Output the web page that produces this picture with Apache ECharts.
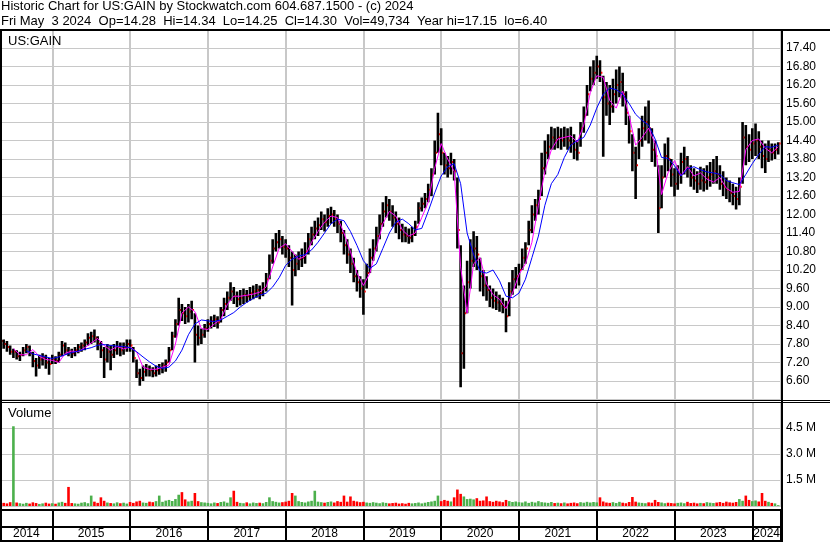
<!DOCTYPE html>
<html>
<head>
<meta charset="utf-8">
<script src="https://cdn.jsdelivr.net/npm/echarts@6.0.0/dist/echarts.min.js"></script>
<style>
html,body{margin:0;padding:0;background:#fff;}
#chart{width:830px;height:543px;}
</style>
</head>
<body>
<div id="chart"></div>
<script>
// ================= DATA =================
const TITLE_LINE_1 = 'Historic Chart for US:GAIN by Stockwatch.com 604.687.1500 - (c) 2024';
const TITLE_LINE_2 = 'Fri May  3 2024  Op=14.28  Hi=14.34  Lo=14.25  Cl=14.30  Vol=49,734  Year hi=17.15  lo=6.40';
const SYMBOL_LABEL = 'US:GAIN';
const VOLUME_LABEL = 'Volume';
const YEARS = [2014, 2015, 2016, 2017, 2018, 2019, 2020, 2021, 2022, 2023, 2024];

// semi-monthly bars starting May 2014 (time in fractional years)
const FIRST_BAR = 2014 + 4 / 12;
const BAR_STEP = 1 / 24;
const MA_STEP = 1 / 12;

const HIGH = [
 8.05,7.95,7.90,7.75,7.65,7.60,7.55,7.70,
 7.80,7.75,7.55,7.35,7.45,7.50,7.45,7.35,
 7.45,7.40,7.55,7.90,7.85,7.70,7.65,7.70,
 7.80,7.85,7.95,8.15,8.20,8.27,8.05,7.90,
 7.70,7.80,7.75,7.80,7.90,7.85,7.85,7.95,
 7.95,7.70,7.30,7.00,7.10,7.15,7.10,7.05,
 7.10,7.15,7.20,7.30,7.70,8.20,8.60,9.30,
 9.10,9.00,9.10,9.20,8.80,8.40,8.30,8.45,
 8.60,8.70,8.75,8.70,9.00,9.30,9.50,9.80,
 9.65,9.50,9.55,9.60,9.55,9.65,9.70,9.75,
 9.70,9.80,10.10,10.70,11.20,11.40,11.50,11.30,
 11.20,11.00,10.80,10.70,10.80,10.90,11.10,11.40,
 11.60,11.80,11.90,12.10,12.00,12.20,12.25,12.15,
 12.00,11.80,11.50,11.20,10.90,10.60,10.20,10.00,
 9.90,10.40,10.90,11.20,11.60,12.00,12.40,12.60,
 12.50,12.30,12.10,11.90,11.70,11.60,11.55,11.60,
 11.80,12.40,12.55,12.70,13.00,13.50,14.40,15.30,
 14.80,14.00,13.90,14.00,13.80,13.20,11.00,9.70,
 10.50,11.20,11.46,11.30,10.60,10.20,10.00,9.70,
 9.60,9.50,9.40,9.30,9.20,9.80,10.20,10.30,
 10.40,10.90,11.10,11.80,12.30,12.50,12.80,14.00,
 14.40,14.60,14.85,14.80,14.85,14.80,14.85,14.80,
 14.85,14.60,14.40,15.00,15.50,16.20,16.80,17.00,
 17.15,17.00,16.50,16.30,16.20,16.40,16.70,16.80,
 16.60,16.00,15.20,14.60,14.20,14.80,15.20,15.50,
 15.70,14.80,14.40,13.60,13.60,14.30,14.50,13.80,
 13.50,13.60,14.00,14.20,13.90,13.60,13.50,13.40,
 13.55,13.50,13.60,13.70,13.80,13.90,13.60,13.40,
 13.20,13.10,13.00,12.90,13.20,15.00,14.90,14.60,
 14.80,14.95,14.70,14.40,14.30,14.40,14.30,14.30,
 14.34
];
const LOW = [
 7.70,7.65,7.55,7.45,7.35,7.30,7.25,7.40,
 7.50,7.40,7.05,6.75,7.00,7.10,7.00,6.80,
 7.15,7.15,7.20,7.40,7.45,7.40,7.35,7.40,
 7.50,7.55,7.60,7.75,7.80,7.85,7.60,7.35,
 6.70,7.20,6.95,7.35,7.45,7.40,7.45,7.55,
 7.55,7.20,6.70,6.45,6.60,6.75,6.75,6.72,
 6.75,6.80,6.85,6.90,7.20,7.60,8.00,8.40,
 8.55,8.45,8.50,8.60,7.20,7.75,7.80,8.00,
 8.20,8.30,8.35,8.30,8.50,8.70,8.90,9.20,
 9.10,9.00,9.05,9.10,9.15,9.20,9.25,9.30,
 9.25,9.35,9.50,9.90,10.40,10.80,10.90,10.70,
 10.60,10.30,9.05,10.00,10.20,10.30,10.40,10.70,
 11.00,11.20,11.30,11.50,11.45,11.60,11.70,11.60,
 11.40,11.10,10.70,10.40,10.10,9.80,9.50,9.30,
 8.75,9.60,10.10,10.50,10.80,11.20,11.60,11.90,
 11.80,11.60,11.40,11.20,11.10,11.10,11.05,11.10,
 11.30,11.70,12.10,12.20,12.40,12.60,13.30,14.00,
 13.60,13.30,13.20,13.30,13.10,10.90,6.40,7.00,
 8.80,9.60,10.30,10.20,9.50,9.35,9.20,9.00,
 8.95,8.90,8.85,8.80,8.18,8.70,9.40,9.60,
 9.70,10.20,10.40,11.00,11.40,11.80,12.00,12.60,
 13.30,13.80,14.10,14.10,14.15,14.10,14.20,14.10,
 14.00,13.80,13.75,14.20,14.65,15.20,16.00,16.20,
 16.40,16.30,13.87,15.20,14.90,15.30,15.60,15.80,
 15.50,14.90,14.30,13.40,12.50,13.80,14.20,14.40,
 14.30,13.70,13.55,11.40,12.20,13.20,13.40,12.90,
 12.58,12.80,13.00,13.30,13.20,12.90,12.80,12.70,
 12.80,12.75,12.80,12.90,13.00,13.00,12.80,12.60,
 12.50,12.40,12.30,12.16,12.30,13.00,13.60,13.70,
 13.80,13.90,13.80,13.50,13.35,13.70,13.75,13.80,
 13.95
];
const CLOSE = [
 7.90,7.80,7.70,7.55,7.55,7.40,7.45,7.60,
 7.70,7.50,7.25,7.10,7.30,7.35,7.20,7.15,
 7.30,7.25,7.45,7.75,7.60,7.55,7.50,7.60,
 7.70,7.75,7.85,8.00,8.05,8.00,7.80,7.60,
 7.30,7.55,7.45,7.60,7.70,7.60,7.70,7.80,
 7.75,7.35,6.85,6.70,6.90,7.00,6.95,6.85,
 6.95,7.00,7.10,7.20,7.60,8.05,8.45,8.90,
 8.80,8.70,8.85,8.90,8.10,8.00,8.10,8.30,
 8.45,8.55,8.60,8.50,8.90,9.10,9.30,9.50,
 9.35,9.25,9.30,9.40,9.35,9.45,9.50,9.55,
 9.45,9.60,9.90,10.50,10.90,11.10,11.20,10.95,
 10.90,10.60,10.20,10.40,10.55,10.60,10.80,11.20,
 11.35,11.55,11.65,11.85,11.75,11.95,12.00,11.85,
 11.70,11.40,11.00,10.70,10.40,10.00,9.80,9.60,
 9.50,10.10,10.60,10.90,11.30,11.70,12.10,12.30,
 12.10,11.90,11.70,11.50,11.35,11.30,11.25,11.35,
 11.60,12.20,12.35,12.50,12.80,13.30,14.00,14.60,
 14.00,13.60,13.50,13.70,13.40,11.50,7.50,8.80,
 9.80,10.50,10.90,10.70,10.00,9.70,9.55,9.30,
 9.20,9.15,9.10,9.00,8.70,9.50,9.90,10.00,
 10.20,10.60,10.90,11.50,12.00,12.30,12.50,13.50,
 14.00,14.20,14.50,14.40,14.50,14.40,14.50,14.40,
 14.30,14.10,14.00,14.80,15.20,15.90,16.40,16.60,
 16.80,16.60,15.80,15.60,15.50,15.90,16.20,16.30,
 15.90,15.30,14.70,14.00,13.60,14.40,14.80,15.00,
 14.80,14.10,13.90,12.20,13.20,13.90,13.80,13.30,
 13.00,13.30,13.70,13.80,13.50,13.20,13.10,13.00,
 13.10,13.05,13.20,13.30,13.40,13.30,13.00,12.90,
 12.80,12.70,12.60,12.50,12.90,14.50,14.20,14.10,
 14.30,14.40,14.20,13.90,13.80,14.10,14.00,14.10,
 14.30
];
// volume in thousands of shares
const VOLUME = [
 250,180,150,220,4600,200,160,130,
 180,140,210,170,120,150,190,140,
 160,130,200,240,180,1100,170,150,
 130,190,220,160,600,250,180,500,
 300,200,170,150,210,160,190,140,
 230,180,260,300,200,180,250,220,
 280,600,240,310,350,290,400,650,
 800,380,260,300,750,280,220,200,
 180,150,200,170,230,260,190,500,
 880,240,180,160,210,150,200,170,
 190,160,230,500,280,240,200,220,
 250,300,750,600,280,230,200,260,
 300,880,250,220,190,230,260,200,
 280,240,600,250,550,300,260,220,
 240,200,180,220,190,160,210,180,
 150,170,190,140,160,130,180,150,
 170,200,150,190,230,260,300,600,
 280,350,300,260,500,950,700,550,
 400,420,380,450,300,320,550,280,
 240,300,260,220,350,280,230,260,
 220,200,260,180,240,200,280,220,
 200,180,230,170,190,160,200,150,
 180,200,160,220,190,240,200,230,
 210,500,260,200,180,220,170,240,
 190,160,230,520,250,200,180,160,
 210,190,350,230,200,160,190,170,
 150,180,200,160,240,170,190,150,
 180,160,220,190,170,200,230,180,
 250,210,190,230,400,300,600,350,
 280,320,260,750,300,240,180,150,
 50
];
// moving averages, monthly readings
const MA_FAST = [
 null,null,7.65,7.45,7.45,7.62,7.40,7.30,
 7.27,7.20,7.50,7.57,7.55,7.68,7.83,7.98,
 7.75,7.60,7.72,7.64,7.70,7.55,7.05,6.98,
 6.98,7.05,7.12,7.80,8.80,9.00,8.85,8.30,
 8.27,8.45,8.60,9.08,9.35,9.35,9.38,9.42,
 9.48,9.65,10.30,10.90,11.05,10.80,10.55,10.65,
 11.10,11.45,11.75,11.95,11.90,11.40,10.80,10.10,
 9.70,10.10,10.90,11.70,12.10,11.95,11.50,11.30,
 11.40,11.90,12.40,13.50,14.30,13.80,13.40,10.30,
 8.80,10.40,10.60,9.75,9.40,9.25,8.95,9.45,
 10.05,10.40,11.10,12.30,13.40,14.10,14.45,14.50,
 14.55,14.35,14.90,15.95,16.50,16.45,15.70,15.45,
 16.00,15.20,14.25,14.50,14.80,14.30,12.65,13.35,
 13.75,13.25,13.55,13.25,13.35,13.15,13.05,13.20,
 12.85,12.72,12.75,14.10,14.40,14.45,14.15,14.00,
 14.20
];
const MA_SLOW = [
 null,null,null,null,7.58,7.48,7.43,7.38,
 7.33,7.38,7.45,7.52,7.57,7.63,7.68,7.76,
 7.78,7.75,7.73,7.72,7.68,7.55,7.38,7.22,
 7.08,7.01,7.05,7.25,7.60,8.10,8.45,8.58,
 8.55,8.53,8.58,8.70,8.82,9.00,9.15,9.28,
 9.38,9.45,9.65,9.95,10.35,10.55,10.65,10.70,
 10.85,11.10,11.40,11.70,11.85,11.80,11.45,11.00,
 10.50,10.25,10.40,10.90,11.40,11.75,11.85,11.70,
 11.50,11.55,12.10,12.70,13.25,13.55,13.65,13.00,
 11.40,10.70,10.15,10.10,10.20,9.85,9.35,9.30,
 9.45,9.90,10.60,11.30,12.30,13.00,13.30,13.85,
 14.25,14.40,14.50,14.90,15.45,15.90,16.10,16.05,
 15.90,15.60,15.25,15.05,14.90,14.45,13.85,13.82,
 13.58,13.25,13.48,13.55,13.45,13.38,13.35,13.30,
 13.10,13.03,12.97,13.30,13.65,13.95,14.20,14.18,
 14.25
];

// ================= LAYOUT =================
const FONT = '"Liberation Sans", Arial, sans-serif';
const X_MIN = 2014, X_MAX = 2024.369;
const PX_PER_YEAR = 77.78;
const GRID_LEFT = 52.3 - PX_PER_YEAR;
const GRID_WIDTH = 781 - GRID_LEFT;
const GRID_COLOR = '#c8c8c8';
const UP_COLOR = '#4cb04c', DOWN_COLOR = '#ff0000';

const priceData = HIGH.map((h, i) => [FIRST_BAR + i * BAR_STEP, h, LOW[i], CLOSE[i]]);
const volumeData = VOLUME.map((v, i) => [FIRST_BAR + i * BAR_STEP, v, (i === 0 || CLOSE[i] >= CLOSE[i - 1]) ? 1 : 0]);
const fastData = MA_FAST.map((v, j) => [FIRST_BAR + j * MA_STEP, v]);
const slowData = MA_SLOW.map((v, j) => [FIRST_BAR + j * MA_STEP, v]);

function renderPrice(params, api) {
  const t = api.value(0);
  const ph = api.coord([t, api.value(1)]);
  const pl = api.coord([t, api.value(2)]);
  const pc = api.coord([t, api.value(3)]);
  return {
    type: 'group',
    children: [
      { type: 'rect', shape: { x: ph[0] - 1.3, y: ph[1], width: 2.6, height: Math.max(1, pl[1] - ph[1]) }, style: { fill: '#000' } },
      { type: 'rect', shape: { x: pc[0] + 1, y: pc[1] - 1, width: 1.4, height: 2 }, style: { fill: '#ff0000' } }
    ]
  };
}
function renderVolume(params, api) {
  const t = api.value(0);
  const p0 = api.coord([t, 0]);
  const p1 = api.coord([t, api.value(1)]);
  return {
    type: 'rect',
    shape: { x: p0[0] - 1.3, y: p1[1], width: 2.6, height: p0[1] - p1[1] + 2 },
    style: { fill: api.value(2) ? UP_COLOR : DOWN_COLOR }
  };
}
function renderYear(params, api) {
  const yr = api.value(0);
  const a = api.coord([Math.max(yr, FIRST_BAR), 0.22]);
  const b = api.coord([Math.min(yr + 1, X_MAX), 0.22]);
  return {
    type: 'text',
    style: { text: String(yr), x: (a[0] + b[0]) / 2, y: a[1], align: 'center', verticalAlign: 'middle', font: '12px ' + FONT, fill: '#000' }
  };
}

const xBase = {
  type: 'value', min: X_MIN, max: X_MAX, interval: 1,
  axisLine: { show: false }, axisTick: { show: false }, axisLabel: { show: false }
};

const option = {
  animation: false,
  backgroundColor: '#ffffff',
  grid: [
    { left: GRID_LEFT, width: GRID_WIDTH, top: 29.5, height: 370, outerBoundsMode: 'none', containLabel: false },
    { left: GRID_LEFT, width: GRID_WIDTH, top: 402, height: 104, outerBoundsMode: 'none', containLabel: false },
    { left: GRID_LEFT, width: GRID_WIDTH, top: 510, height: 31, outerBoundsMode: 'none', containLabel: false }
  ],
  xAxis: [
    Object.assign({ gridIndex: 0, splitLine: { show: true, lineStyle: { color: GRID_COLOR, width: 2 } } }, xBase),
    Object.assign({ gridIndex: 1, splitLine: { show: true, lineStyle: { color: GRID_COLOR, width: 2 } } }, xBase),
    Object.assign({ gridIndex: 2, splitLine: { show: true, lineStyle: { color: '#000', width: 2 } } }, xBase)
  ],
  yAxis: [
    {
      gridIndex: 0, type: 'value', position: 'right', min: 6, max: 18, interval: 0.6,
      axisLine: { show: false }, axisTick: { show: false },
      axisLabel: {
        margin: 5, color: '#000', fontSize: 12, fontFamily: FONT,
        formatter: v => (Math.abs(v - 6) < 1e-6 || Math.abs(v - 18) < 1e-6) ? '' : v.toFixed(2)
      },
      splitLine: { show: true, lineStyle: { color: GRID_COLOR, width: 1 } }
    },
    {
      gridIndex: 1, type: 'value', position: 'right', min: 0, max: 6000, interval: 1500,
      axisLine: { show: false }, axisTick: { show: false },
      axisLabel: {
        margin: 5, color: '#000', fontSize: 12, fontFamily: FONT,
        formatter: v => (v <= 0 || v >= 6000) ? '' : (v / 1000).toFixed(1) + ' M'
      },
      splitLine: { show: true, lineStyle: { color: GRID_COLOR, width: 1 } }
    },
    { gridIndex: 2, type: 'value', min: 0, max: 1, show: false, splitLine: { show: false } }
  ],
  series: [
    { type: 'custom', name: 'price', xAxisIndex: 0, yAxisIndex: 0, data: priceData, renderItem: renderPrice, encode: { x: 0, y: [1, 2, 3] }, clip: true, z: 2 },
    { type: 'line', name: 'fast', xAxisIndex: 0, yAxisIndex: 0, data: fastData, showSymbol: false, symbol: 'none', lineStyle: { color: '#ff00ff', width: 1 }, z: 4, silent: true },
    { type: 'line', name: 'slow', xAxisIndex: 0, yAxisIndex: 0, data: slowData, showSymbol: false, symbol: 'none', lineStyle: { color: '#0000ff', width: 1 }, z: 5, silent: true },
    { type: 'custom', name: 'volume', xAxisIndex: 1, yAxisIndex: 1, data: volumeData, renderItem: renderVolume, encode: { x: 0, y: 1 }, clip: true, z: 2 },
    { type: 'custom', name: 'years', xAxisIndex: 2, yAxisIndex: 2, data: YEARS.map(y => [y]), renderItem: renderYear, encode: { x: 0 }, z: 3 }
  ],
  graphic: { elements: [
    { type: 'text', left: 1, top: 0, z: 100, style: { text: TITLE_LINE_1, font: '13px ' + FONT, fill: '#000' } },
    { type: 'text', left: 1, top: 15, z: 100, style: { text: TITLE_LINE_2, font: '13px ' + FONT, fill: '#000' } },
    { type: 'text', left: 8, top: 35, z: 100, style: { text: SYMBOL_LABEL, font: '13px ' + FONT, fill: '#000' } },
    { type: 'text', left: 8, top: 407, z: 100, style: { text: VOLUME_LABEL, font: '13px ' + FONT, fill: '#000' } },
    { type: 'rect', z: 100, shape: { x: 0, y: 29, width: 830, height: 2 }, style: { fill: '#000' } },
    { type: 'rect', z: 100, shape: { x: 0, y: 400, width: 830, height: 1 }, style: { fill: '#000' } },
    { type: 'rect', z: 100, shape: { x: 0, y: 402, width: 830, height: 1 }, style: { fill: '#000' } },
    { type: 'rect', z: 100, shape: { x: 0, y: 509, width: 783, height: 2 }, style: { fill: '#000' } },
    { type: 'rect', z: 100, shape: { x: 0, y: 526, width: 783, height: 2 }, style: { fill: '#000' } },
    { type: 'rect', z: 100, shape: { x: 0, y: 540, width: 783, height: 2 }, style: { fill: '#000' } },
    { type: 'rect', z: 100, shape: { x: 0, y: 29, width: 2, height: 513 }, style: { fill: '#000' } },
    { type: 'rect', z: 100, shape: { x: 781, y: 29, width: 2, height: 513 }, style: { fill: '#000' } }
  ] }
};

const chart = echarts.init(document.getElementById('chart'), null, { renderer: 'canvas' });
chart.setOption(option);
</script>
</body>
</html>
